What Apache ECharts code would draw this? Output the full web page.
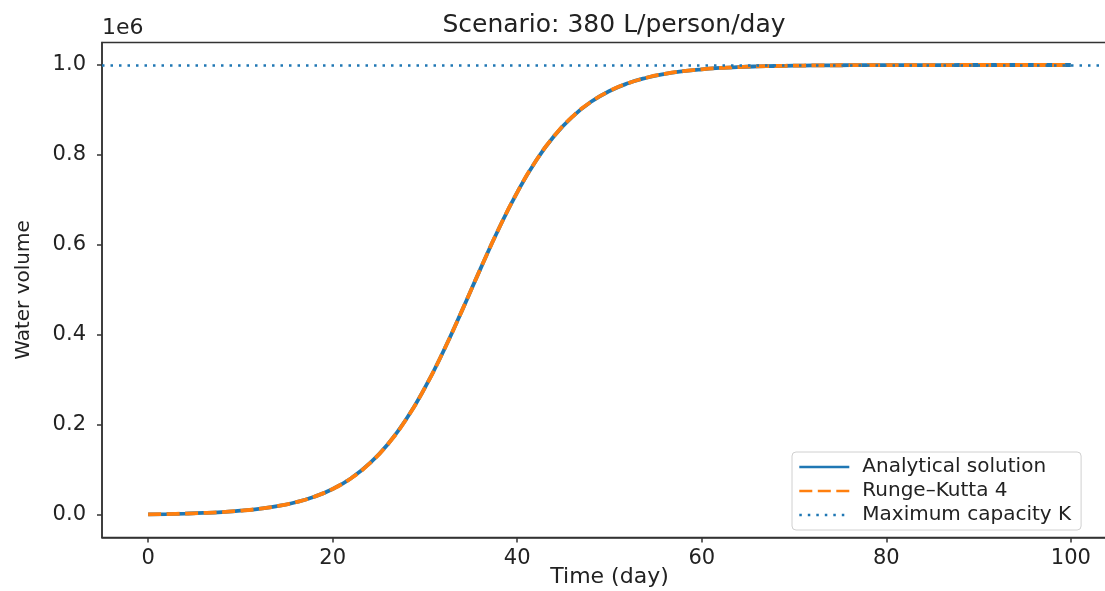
<!DOCTYPE html>
<html>
<head>
<meta charset="utf-8">
<script src="https://cdn.jsdelivr.net/npm/echarts@6/dist/echarts.min.js"></script>
<style>
html,body{margin:0;padding:0;background:#fff;}
#chart{width:1105px;height:591px;}
</style>
</head>
<body>
<div id="chart"></div>
<script>
// ---- data ----
const chartTitle = 'Scenario: 380 L/person/day';
const days = [0,2,4,6,8,10,12,14,16,18,20,22,24,26,28,30,32,34,36,38,40,42,44,46,48,50,
  52,54,56,58,60,62,64,66,68,70,72,74,76,78,80,82,84,86,88,90,92,94,96,98,100];
const analytical = [1500,2150,3100,4500,6550,9500,13700,19700,28400,40600,57900,81800,114500,157900,
  213800,283000,364000,453600,546400,636000,717000,786200,842100,885500,918200,942100,
  959400,971600,980300,986300,990500,993400,995500,996900,997800,998500,999000,999300,
  999500,999700,999800,999840,999890,999930,999950,999960,999970,999980,999990,999990,999990];
const rungeKutta4 = [1500,2150,3100,4500,6550,9500,13700,19700,28400,40600,57900,81800,114500,157900,
  213800,283000,364000,453600,546400,636000,717000,786200,842100,885500,918200,942100,
  959400,971600,980300,986300,990500,993400,995500,996900,997800,998500,999000,999300,
  999500,999700,999800,999840,999890,999930,999950,999960,999970,999980,999990,999990,999990];
const capacityK = 1000000;
const xTicks = [0,20,40,60,80,100];
const yTicks = [0,200000,400000,600000,800000,1000000];
const seriesNames = ['Analytical solution','Runge\u2013Kutta 4','Maximum capacity K'];

const pairs = (xs, ys) => xs.map((x, i) => [x, ys[i]]);
const FONT = 'DejaVu Sans';
const TXT = '#222';

const chart = echarts.init(document.getElementById('chart'), null, {renderer: 'canvas'});
chart.setOption({
  backgroundColor: '#fff',
  animation: false,
  title: {
    text: chartTitle,
    left: 609, top: 8, textAlign: 'center',
    textStyle: {fontFamily: FONT, fontSize: 25, fontWeight: 'normal', color: TXT}
  },
  graphic: [{
    type: 'text', left: 102, top: 17,
    style: {text: '1e6', fontFamily: FONT, fontSize: 22, fill: TXT}
  }],
  grid: {
    left: 102, top: 42.5, right: -12, bottom: 53.5,
    outerBoundsMode: 'none', containLabel: false,
    show: true, borderColor: '#333', borderWidth: 1.5, backgroundColor: 'transparent'
  },
  legend: {
    orient: 'vertical', left: 792, top: 452,
    data: seriesNames,
    itemWidth: 50, itemHeight: 14, itemGap: 4,
    padding: [5, 10, 5, 6],
    borderColor: '#d0d0d0', borderWidth: 1, borderRadius: 4,
    backgroundColor: 'rgba(255,255,255,0.85)',
    itemStyle: {color: 'rgba(0,0,0,0)', borderColor: 'rgba(0,0,0,0)', borderWidth: 0},
    lineStyle: {width: 2.6},
    textStyle: {fontFamily: FONT, fontSize: 20, color: TXT, lineHeight: 18, padding: [0, 0, 0, 8]}
  },
  xAxis: {
    type: 'value', min: -5, max: 105,
    name: 'Time (day)', nameLocation: 'middle', nameGap: 29, nameMoveOverlap: false,
    nameTextStyle: {fontFamily: FONT, fontSize: 22, color: TXT},
    axisLine: {show: true, onZero: false, lineStyle: {color: '#333', width: 1.5}},
    axisTick: {show: true, length: 5, customValues: xTicks, lineStyle: {color: '#333', width: 1.5}},
    axisLabel: {customValues: xTicks, margin: 11, fontFamily: FONT, fontSize: 21, color: TXT},
    splitLine: {show: false}
  },
  yAxis: {
    type: 'value', min: -50000, max: 1050000,
    name: 'Water volume', nameLocation: 'middle', nameGap: 68, nameRotate: 90, nameMoveOverlap: false,
    nameTextStyle: {fontFamily: FONT, fontSize: 20, color: TXT},
    axisLine: {show: true, onZero: false, lineStyle: {color: '#333', width: 1.5}},
    axisTick: {show: true, length: 5, customValues: yTicks, lineStyle: {color: '#333', width: 1.5}},
    axisLabel: {customValues: yTicks, margin: 16, fontFamily: FONT, fontSize: 21, color: TXT,
      formatter: v => (v / 1e6).toFixed(1)},
    splitLine: {show: false}
  },
  series: [
    {
      name: seriesNames[0], type: 'line', data: pairs(days, analytical),
      symbol: 'none', smooth: true, z: 2,
      lineStyle: {color: '#1f77b4', width: 3.8, type: 'solid'},
      itemStyle: {color: '#1f77b4'}
    },
    {
      name: seriesNames[1], type: 'line', data: pairs(days, rungeKutta4),
      symbol: 'none', smooth: true, z: 3,
      lineStyle: {color: '#ff7f0e', width: 3.8, type: [13, 5.5]},
      itemStyle: {color: '#ff7f0e'}
    },
    {
      name: seriesNames[2], type: 'line', data: [],
      symbol: 'none', z: 1,
      lineStyle: {color: '#1f77b4', width: 2.5, type: [2.5, 6]},
      itemStyle: {color: '#1f77b4'},
      markLine: {
        silent: true, symbol: ['none', 'none'], label: {show: false},
        lineStyle: {color: '#1f77b4', width: 2.5, type: [2.5, 6]},
        data: [{yAxis: capacityK}]
      }
    }
  ]
});
</script>
</body>
</html>
